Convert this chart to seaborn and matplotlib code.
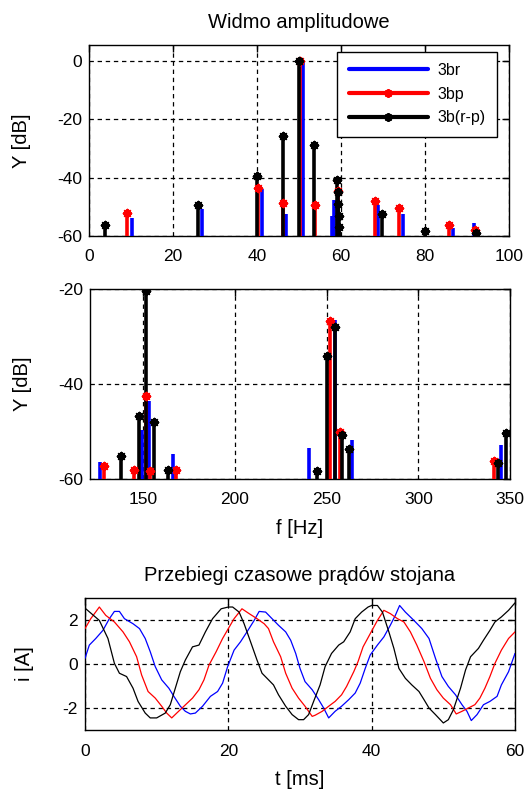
import matplotlib
matplotlib.use("Agg")
import matplotlib.pyplot as plt
from matplotlib.lines import Line2D
import seaborn as sns
import pandas as pd

# --- amplitude spectra (frequency in Hz, level in dB) ---
f_br = [10.2, 26.8, 41.1, 47.0, 51.0, 57.8, 58.4, 68.7, 74.8, 86.7, 91.7,
        126.3, 149.1, 153.0, 166.1, 240.2, 254.5, 264.1, 345.0]
db_br = [-53.8, -50.9, -44.0, -52.4, -0.3, -53.2, -47.5, -49.2, -52.6, -57.2, -55.5,
         -56.4, -49.6, -43.6, -54.7, -53.5, -26.5, -51.7, -52.8]

f_bp = [9.0, 40.3, 46.2, 50.3, 53.8, 59.2, 68.1, 73.7, 85.6, 91.9,
        128.9, 145.0, 151.5, 153.9, 167.9, 252.1, 257.5, 341.4]
db_bp = [-52.1, -43.4, -48.6, 0.0, -49.2, -44.6, -48.0, -50.3, -56.1, -57.8,
         -57.2, -58.0, -42.6, -58.4, -58.0, -26.8, -50.2, -56.1]

f_brp = [3.8, 26.0, 39.9, 46.1, 49.9, 53.5, 59.0, 59.2, 59.3, 59.5, 59.6, 69.7, 80.0, 92.1,
         137.9, 147.7, 151.8, 155.7, 163.4, 245.0, 250.4, 254.8, 258.4, 262.0, 343.2, 347.7]
db_brp = [-56.1, -49.2, -39.4, -25.8, 0.0, -28.9, -40.8, -45.0, -49.0, -53.0, -57.0, -52.6, -58.4, -59.0,
          -55.2, -46.8, -20.5, -47.9, -58.0, -58.4, -34.0, -28.0, -50.7, -53.7, -56.6, -50.3]

# --- stator current waveforms (time in ms, current in A) ---
t_br = [0, 0.6, 1.5, 2.5, 3.4, 4.1, 4.8, 5.5, 6.7, 7.6, 8.4, 9.1, 9.8, 10.7, 11.7, 12.4,
        13.3, 14.0, 14.7, 15.4, 16.4, 17.5, 18.5, 19.2, 19.9, 20.8, 21.7, 22.6, 23.6, 24.3,
        25.2, 26.1, 27.0, 28.0, 28.7, 29.4, 30.0, 30.7, 31.7, 32.6, 33.3, 34.0, 34.9, 35.8,
        36.8, 37.7, 38.4, 39.1, 39.8, 40.8, 41.7, 42.6, 43.3, 43.9, 44.7, 45.9, 47.0, 48.0,
        48.9, 49.8, 50.7, 51.7, 52.6, 53.3, 53.9, 54.7, 55.6, 56.5, 57.5, 58.1, 59.1, 60.0]
i_br = [0.26, 0.86, 1.16, 1.53, 2.06, 2.39, 2.39, 2.06, 1.83, 1.61, 1.16, 0.56, -0.12, -0.72,
        -1.10, -1.47, -1.92, -2.15, -2.27, -2.23, -1.92, -1.47, -1.25, -0.87, -0.12, 0.63,
        1.01, 1.46, 1.98, 2.39, 2.36, 2.06, 1.76, 1.46, 1.08, 0.48, -0.20, -0.80, -1.17,
        -1.62, -2.00, -2.45, -2.15, -1.92, -1.62, -1.32, -0.87, -0.20, 0.41, 0.86, 1.23,
        1.76, 2.21, 2.66, 2.36, 1.98, 1.61, 1.16, 0.26, -0.57, -1.02, -1.40, -1.85, -2.15,
        -2.57, -2.30, -1.85, -1.70, -1.47, -0.95, -0.35, 0.48]

t_bp = [0, 0.8, 2.0, 2.9, 4.1, 5.3, 6.2, 7.2, 7.9, 8.8, 9.8, 10.7, 11.4, 12.1, 12.8, 13.8,
        15.0, 15.9, 16.6, 17.3, 18.3, 19.2, 20.0, 20.8, 21.9, 22.9, 24.0, 25.0, 25.6, 26.3,
        27.3, 28.0, 28.9, 29.8, 30.7, 31.7, 32.1, 33.1, 34.0, 34.9, 35.8, 36.5, 37.5, 38.1,
        38.8, 39.8, 40.8, 41.7, 42.6, 43.6, 44.5, 45.4, 46.3, 47.3, 48.2, 49.1, 50.0, 51.0,
        51.8, 52.6, 53.5, 54.4, 55.1, 55.8, 56.5, 57.2, 58.1, 59.1, 60.0]
i_bp = [1.61, 2.06, 2.59, 2.21, 1.91, 1.46, 1.01, 0.33, -0.50, -1.25, -1.55, -1.92, -2.23,
        -2.45, -2.23, -1.92, -1.55, -1.17, -0.72, -0.05, 0.56, 1.16, 1.61, 2.06, 2.51, 2.29,
        2.06, 1.83, 1.61, 1.01, 0.33, -0.42, -1.10, -1.55, -1.92, -2.38, -2.33, -2.15, -1.92,
        -1.70, -1.40, -1.02, -0.35, 0.11, 0.78, 1.38, 1.98, 2.44, 2.29, 2.06, 1.91, 1.46,
        0.86, 0.11, -0.65, -1.17, -1.55, -1.85, -2.27, -2.15, -2.00, -1.85, -1.55, -1.10,
        -0.57, 0.03, 0.63, 1.16, 1.46]

t_brp = [0, 2.0, 3.2, 4.1, 4.8, 5.8, 6.7, 7.4, 8.4, 9.1, 10.0, 11.2, 11.9, 12.6, 13.3, 14.0,
         15.0, 15.9, 16.8, 17.8, 19.0, 20.0, 20.6, 21.5, 22.2, 23.1, 24.0, 24.7, 25.4, 26.3,
         27.0, 28.0, 28.9, 29.8, 30.5, 31.2, 31.9, 32.8, 33.5, 34.4, 35.4, 36.1, 37.0, 37.7,
         38.6, 39.5, 40.0, 40.8, 41.5, 42.4, 43.1, 43.8, 44.7, 45.6, 46.6, 47.3, 48.0, 48.9,
         50.0, 50.7, 51.4, 52.4, 53.1, 53.8, 54.9, 55.6, 56.5, 57.2, 58.1, 59.1, 60.0]
i_brp = [2.54, 1.98, 1.16, 0.03, -0.42, -0.57, -1.10, -1.70, -2.23, -2.45, -2.45, -2.23,
         -1.85, -1.10, -0.35, 0.18, 0.78, 0.86, 1.46, 2.06, 2.51, 2.59, 2.59, 2.36, 1.83,
         1.01, 0.18, -0.42, -0.65, -0.95, -1.40, -1.92, -2.30, -2.53, -2.53, -2.30, -1.70,
         -0.95, -0.12, 0.48, 0.86, 1.01, 1.46, 2.06, 2.36, 2.59, 2.66, 2.66, 2.36, 1.46,
         0.71, -0.20, -0.65, -0.95, -1.25, -1.62, -2.00, -2.30, -2.68, -2.53, -2.08, -1.10,
         -0.27, 0.33, 0.71, 1.08, 1.53, 1.91, 2.14, 2.44, 2.78]

labels = ["3br", "3bp", "3b(r-p)"]
colors = ["#0000ff", "#ff0000", "#000000"]

sns.set_style("white")
plt.rcParams["font.family"] = ["Liberation Sans", "DejaVu Sans"]
plt.rcParams["axes.unicode_minus"] = False
plt.rcParams["text.color"] = "black"
plt.rcParams["axes.labelcolor"] = "black"
plt.rcParams["xtick.color"] = "black"
plt.rcParams["ytick.color"] = "black"

TICK_FS = 12.5
LABEL_FS = 14.5
ASTER = (8, 2, 0)

fig = plt.figure(figsize=(5.3, 7.91), dpi=100)
ax1 = fig.add_axes([0.1679, 0.7016, 0.7925, 0.2415])
ax2 = fig.add_axes([0.1698, 0.3944, 0.7925, 0.2402])
ax3 = fig.add_axes([0.1604, 0.0771, 0.8113, 0.1669])


def style_axes(ax, xpad, ypad):
    for s in ax.spines.values():
        s.set_color("black")
        s.set_linewidth(1.0)
    ax.tick_params(direction="in", length=5, width=1.0, top=True, right=True,
                   labelsize=TICK_FS, colors="black")
    ax.tick_params(axis="x", pad=xpad)
    ax.tick_params(axis="y", pad=ypad)
    ax.grid(True, color="black", linestyle=(0, (3.5, 3.0)), linewidth=0.9)
    ax.set_axisbelow(True)


def draw_spectrum(ax, bottom):
    series = [(f_br, db_br, None), (f_bp, db_bp, ASTER), (f_brp, db_brp, ASTER)]
    for (f, db, mk), col in zip(series, colors):
        ax.vlines(f, bottom, db, color=col, linewidth=2.6, zorder=3)
        if mk is not None:
            sns.scatterplot(x=f, y=db, ax=ax, marker=mk, color=col, s=28,
                            linewidth=1.6, zorder=4, legend=False, clip_on=True)


# top: low-frequency part of the spectrum
draw_spectrum(ax1, -60)
ax1.set_xlim(0, 100)
ax1.set_ylim(-60, 5.5)
ax1.set_xticks([0, 20, 40, 60, 80, 100])
ax1.set_yticks([0, -20, -40, -60])
style_axes(ax1, 9, 5)
ax1.set_ylabel("Y [dB]", fontsize=LABEL_FS, labelpad=19)
ax1.set_title("Widmo amplitudowe", fontsize=LABEL_FS, pad=12, color="black")

handles = [Line2D([], [], color=colors[0], linewidth=3),
           Line2D([], [], color=colors[1], linewidth=3, marker=ASTER,
                  markersize=6, markeredgewidth=1.6),
           Line2D([], [], color=colors[2], linewidth=3, marker=ASTER,
                  markersize=6, markeredgewidth=1.6)]
leg = ax1.legend(handles, labels, loc="upper right", bbox_to_anchor=(0.972, 0.965),
                 fontsize=11.5, handlelength=5.0, handletextpad=0.6, borderpad=0.7,
                 labelspacing=0.55, numpoints=1, fancybox=False, framealpha=1,
                 edgecolor="black", borderaxespad=0, labelcolor="black")
leg.get_frame().set_linewidth(1.0)
leg.set_zorder(10)

# middle: higher harmonics
draw_spectrum(ax2, -60)
ax2.set_xlim(121, 350)
ax2.set_ylim(-60, -20)
ax2.set_xticks([150, 200, 250, 300, 350])
ax2.set_yticks([-20, -40, -60])
style_axes(ax2, 9, 5)
ax2.set_ylabel("Y [dB]", fontsize=LABEL_FS, labelpad=19)
ax2.set_xlabel("f [Hz]", fontsize=LABEL_FS, labelpad=9)

# bottom: stator current waveforms
for t, i, col in zip([t_br, t_bp, t_brp], [i_br, i_bp, i_brp], colors):
    df = pd.DataFrame({"t": t, "i": i})
    sns.lineplot(data=df, x="t", y="i", ax=ax3, color=col, linewidth=0.9,
                 estimator=None, sort=False, zorder=3)
ax3.set_xlim(0, 60)
ax3.set_ylim(-3, 3)
ax3.set_xticks([0, 20, 40, 60])
ax3.set_yticks([-2, 0, 2])
style_axes(ax3, 10, 5)
ax3.set_ylabel("i [A]", fontsize=LABEL_FS, labelpad=21)
ax3.set_xlabel("t [ms]", fontsize=LABEL_FS, labelpad=8)
ax3.set_title("Przebiegi czasowe prądów stojana", fontsize=LABEL_FS, pad=12, color="black")

fig.savefig("out.png", dpi=100, facecolor="white")
